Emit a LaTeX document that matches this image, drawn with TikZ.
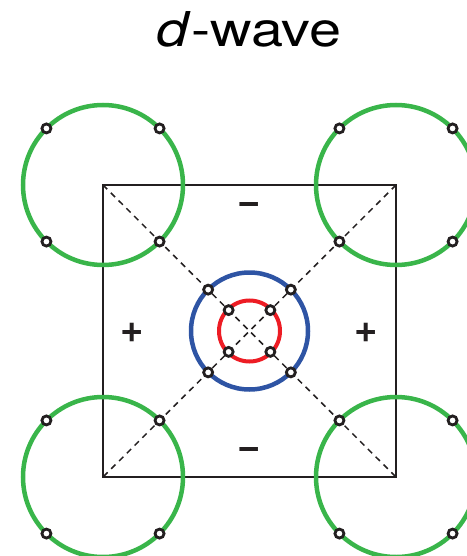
\documentclass[tikz,border=0pt]{standalone}
\usepackage{fontspec}
\setmainfont{TeX Gyre Heros}
\usetikzlibrary{calc}
\definecolor{ringgreen}{RGB}{57,181,74}
\definecolor{ringblue}{RGB}{46,84,164}
\definecolor{ringred}{RGB}{237,28,36}
\definecolor{inkline}{RGB}{35,31,32}
\tikzset{
  frame/.style={draw=inkline, line width=1.8pt},
  diagline/.style={draw=inkline, line width=1.5pt, dash pattern=on 6pt off 5pt},
  greenring/.style={draw=ringgreen, line width=4.5pt},
  bluering/.style={draw=ringblue, line width=4.5pt},
  redring/.style={draw=ringred, line width=4pt},
  site/.style={circle, draw=inkline, fill=white, line width=2.8pt,
    minimum size=9pt, inner sep=0pt},
  signlabel/.style={font=\fontsize{40}{40}\selectfont\bfseries, text=inkline, inner sep=0pt}
}

\begin{document}
\begin{tikzpicture}[x=1pt,y=-1pt]
  \useasboundingbox (0,0) rectangle (466,556);
  \node[font=\fontsize{48}{52}\selectfont, xscale=1.2, anchor=base] (title) at (249,47)
    {\textit{d}-wave};

  \coordinate (sqNW) at (103,185);
  \coordinate (sqNE) at (396,185);
  \coordinate (sqSW) at (103,477);
  \coordinate (sqSE) at (396,477);
  \coordinate (core) at (249.5,331);

  \draw[frame] (sqNW) rectangle (sqSE);
  \draw[diagline] (sqNW) -- (sqSE);
  \draw[diagline] (sqNE) -- (sqSW);

  % pockets at the zone corners
  \foreach \c in {sqNW,sqNE,sqSW,sqSE} {
    \draw[greenring] (\c) circle[radius=80];
    \foreach \a in {45,135,225,315}
      \node[site] (\c-\a) at ($(\c)+(\a:80)$) {};
  }

  % pockets at the zone centre
  \draw[bluering] (core) circle[radius=58.5];
  \draw[redring] (core) circle[radius=30.5];
  \foreach \a in {45,135,225,315} {
    \node[site] (blue-\a) at ($(core)+(\a:58.5)$) {};
    \node[site] (red-\a) at ($(core)+(\a:29.5)$) {};
  }

  \node[signlabel] (minusN) at (249,208) {−};
  \node[signlabel] (minusS) at (249,453) {−};
  \node[signlabel] (plusW) at (132,333) {+};
  \node[signlabel] (plusE) at (366.5,333) {+};
\end{tikzpicture}
\end{document}
